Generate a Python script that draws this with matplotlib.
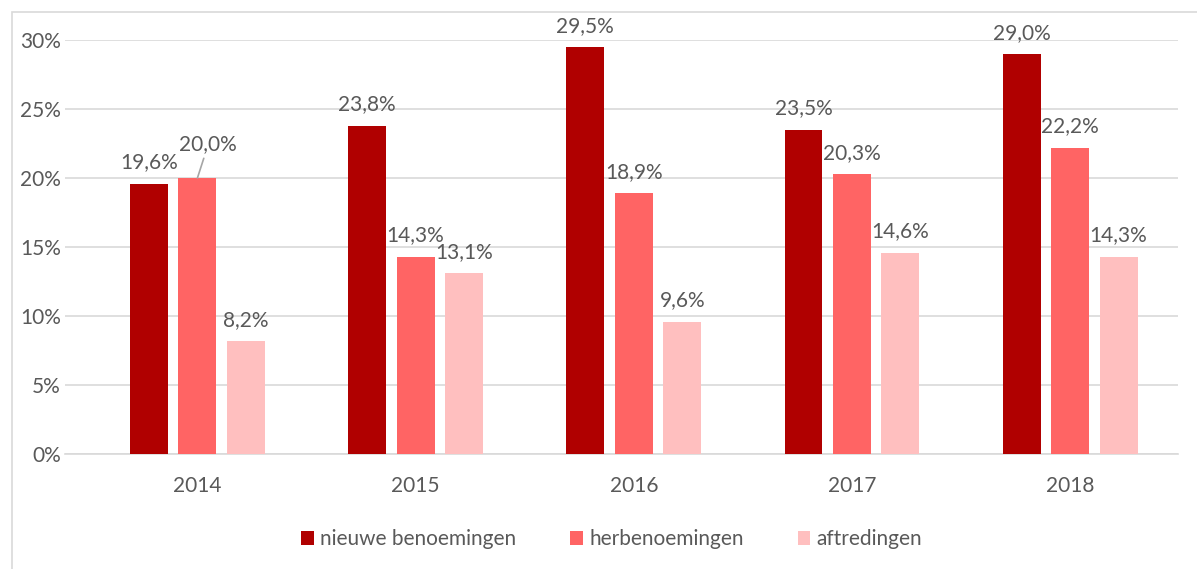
import numpy as np, matplotlib.pyplot as plt
from matplotlib.patches import Rectangle

years = ["2014", "2015", "2016", "2017", "2018"]
nieuwe = [19.6, 23.8, 29.5, 23.5, 29.0]
herbenoemingen = [20.0, 14.3, 18.9, 20.3, 22.2]
aftredingen = [8.2, 13.1, 9.6, 14.6, 14.3]
series_names = ["nieuwe benoemingen", "herbenoemingen", "aftredingen"]
colors = ["#B00000", "#FF6464", "#FFBFBF"]

plt.rcParams['font.family'] = ['Lato', 'DejaVu Sans']
grey = "#595959"
fs = 15

fig = plt.figure(figsize=(11.97, 5.69), dpi=100)
ax = fig.add_axes([0.0543, 0.2021, 0.9299, 0.7276])

x = np.arange(len(years))
w = 0.174
step = 0.222
for k, (vals, name) in enumerate(zip([nieuwe, herbenoemingen, aftredingen], series_names)):
    pos = x + (k - 1) * step
    ax.bar(pos, vals, width=w, color=colors[k], label=name, zorder=3)
    for i, (p, v) in enumerate(zip(pos, vals)):
        lab = f"{v:.1f}%".replace(".", ",")
        if k == 1 and i == 0:
            # label moved up with leader line
            ax.annotate(lab, xy=(p, v), xytext=(p + 0.05, v + 2.45), ha="center", va="center",
                        fontsize=fs, color=grey,
                        arrowprops=dict(arrowstyle="-", color="#A6A6A6", lw=1.2,
                                        shrinkA=1, shrinkB=0))
        else:
            ax.annotate(lab, xy=(p, v), xytext=(0, 8), textcoords="offset points",
                        ha="center", va="bottom", fontsize=fs, color=grey)

ax.set_xlim(-0.607, 4.495)
ax.set_ylim(0, 30)
ax.set_yticks(np.arange(0, 31, 5))
ax.set_yticklabels([f"{t}%" for t in range(0, 31, 5)])
ax.set_xticks(x)
ax.set_xticklabels(years)
ax.tick_params(axis="both", length=0, labelsize=fs, colors=grey)
ax.tick_params(axis="x", pad=16)
ax.tick_params(axis="y", pad=3)
ax.grid(axis="y", color="#D9D9D9", lw=1.2, zorder=0)
for s in ["top", "right", "left"]:
    ax.spines[s].set_visible(False)
ax.spines["bottom"].set_color("#D9D9D9")
ax.spines["bottom"].set_linewidth(1.2)

leg = fig.legend(loc="center", bbox_to_anchor=(0.511, 0.052), ncol=3, frameon=False,
                 fontsize=fs, handlelength=0.6, handleheight=0.6, handletextpad=0.3,
                 columnspacing=2.6)
for t in leg.get_texts():
    t.set_color(grey)

fig.patches.append(Rectangle((12 / 1197, -0.1), 1.2, 1 - 12 / 569 + 0.1,
                             transform=fig.transFigure, fill=False,
                             edgecolor="#D9D9D9", lw=1.2))

fig.savefig("out.png", dpi=100)
